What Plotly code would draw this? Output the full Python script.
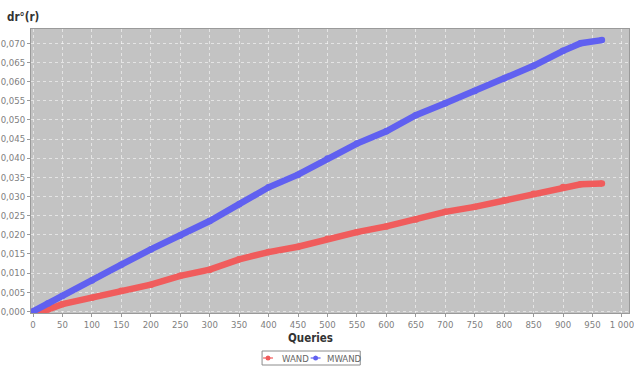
import plotly.graph_objects as go

# Queries processed and cumulative dr°(r) for both algorithms
queries = [0, 25, 50, 100, 150, 200, 250, 300, 350, 400, 450, 500,
           550, 600, 650, 700, 750, 800, 850, 900, 930, 966]
wand = [0.0, 0.0005, 0.0019, 0.0036, 0.0054, 0.0070, 0.0093, 0.0109,
        0.0136, 0.0155, 0.0169, 0.0190, 0.0207, 0.0222, 0.0240, 0.0260,
        0.0273, 0.0290, 0.0307, 0.0325, 0.0332, 0.0334]
mwand = [0.0, 0.0021, 0.0041, 0.0081, 0.0122, 0.0162, 0.0198, 0.0236,
         0.0280, 0.0324, 0.0357, 0.0399, 0.0438, 0.0470, 0.0512, 0.0543,
         0.0575, 0.0608, 0.0641, 0.0680, 0.0700, 0.0708]
series_names = ["WAND", "MWAND"]

x_ticks = list(range(0, 1001, 50))
x_labels = [f"{v:,}".replace(",", " ") for v in x_ticks]
y_ticks = [i * 0.005 for i in range(15)]
y_labels = [f"{v:.3f}".replace(".", ",") for v in y_ticks]

RED = "rgb(240,92,92)"
BLUE = "rgb(96,96,240)"
FONT = "DejaVu Sans Condensed, DejaVu Sans, sans-serif"

# plot area in pixels (used to place the hand-built legend)
L, R, T, B = 31, 634, 29, 313
W, H = R - L, B - T


def px(x):
    return (x - L) / W


def py(y):
    return (B - y) / H


fig = go.Figure()
for name, vals, col in [(series_names[0], wand, RED), (series_names[1], mwand, BLUE)]:
    fig.add_trace(go.Scatter(
        x=queries, y=vals, mode="lines+markers", name=name, showlegend=False,
        line=dict(color=col, width=6.5),
        marker=dict(color=col, size=6.5, symbol="circle")))

tick_font = dict(family=FONT, size=9.5, color="#808080")
axis_common = dict(showline=True, linecolor="#9a9a9a", linewidth=1, mirror=True,
                   ticks="outside", ticklen=3, tickcolor="#9a9a9a",
                   showgrid=True, gridcolor="rgba(255,255,255,0.55)", griddash="dot",
                   gridwidth=1, zeroline=False, tickfont=tick_font,
                   ticklabeloverflow="allow")

# legend: box, swatches and labels
shapes = [dict(type="rect", xref="paper", yref="paper",
               x0=px(264), x1=px(363), y0=py(351), y1=py(365),
               line=dict(color="#8c8c8c", width=1), fillcolor="white")]
annotations = []
ly = 358
for name, col, cx, tx in [(series_names[0], RED, 270, 282), (series_names[1], BLUE, 318, 327)]:
    shapes.append(dict(type="line", xref="paper", yref="paper",
                       x0=px(cx - 5), x1=px(cx + 5), y0=py(ly), y1=py(ly),
                       line=dict(color=col, width=1.2)))
    shapes.append(dict(type="circle", xref="paper", yref="paper",
                       x0=px(cx - 2.5), x1=px(cx + 2.5), y0=py(ly - 2.5), y1=py(ly + 2.5),
                       line=dict(color=col, width=0), fillcolor=col))
    annotations.append(dict(text=name, xref="paper", yref="paper", x=px(tx), y=py(ly),
                            xanchor="left", yanchor="middle", showarrow=False,
                            font=dict(family=FONT, size=9.5, color="#666666")))

annotations += [
    dict(text="<b>Queries</b>", xref="paper", yref="paper", x=px(313), y=py(338),
         xanchor="center", yanchor="middle", showarrow=False,
         font=dict(family=FONT, size=11.5, color="#333333")),
    dict(text="<b>dr°(r)</b>", xref="paper", yref="paper", x=px(5), y=py(17),
         xanchor="left", yanchor="middle", showarrow=False,
         font=dict(family=FONT, size=11.5, color="#333333")),
]

fig.update_layout(
    width=634, height=366,
    margin=dict(l=L, r=634 - R, t=T, b=366 - B),
    paper_bgcolor="white", plot_bgcolor="#c3c3c3",
    showlegend=False,
    xaxis=dict(range=[-3.4, 1012], tickvals=x_ticks, ticktext=x_labels, **axis_common),
    yaxis=dict(range=[-0.0004, 0.0737], tickvals=y_ticks, ticktext=y_labels, **axis_common),
    shapes=shapes,
    annotations=annotations,
)

fig.write_html("out.html")
